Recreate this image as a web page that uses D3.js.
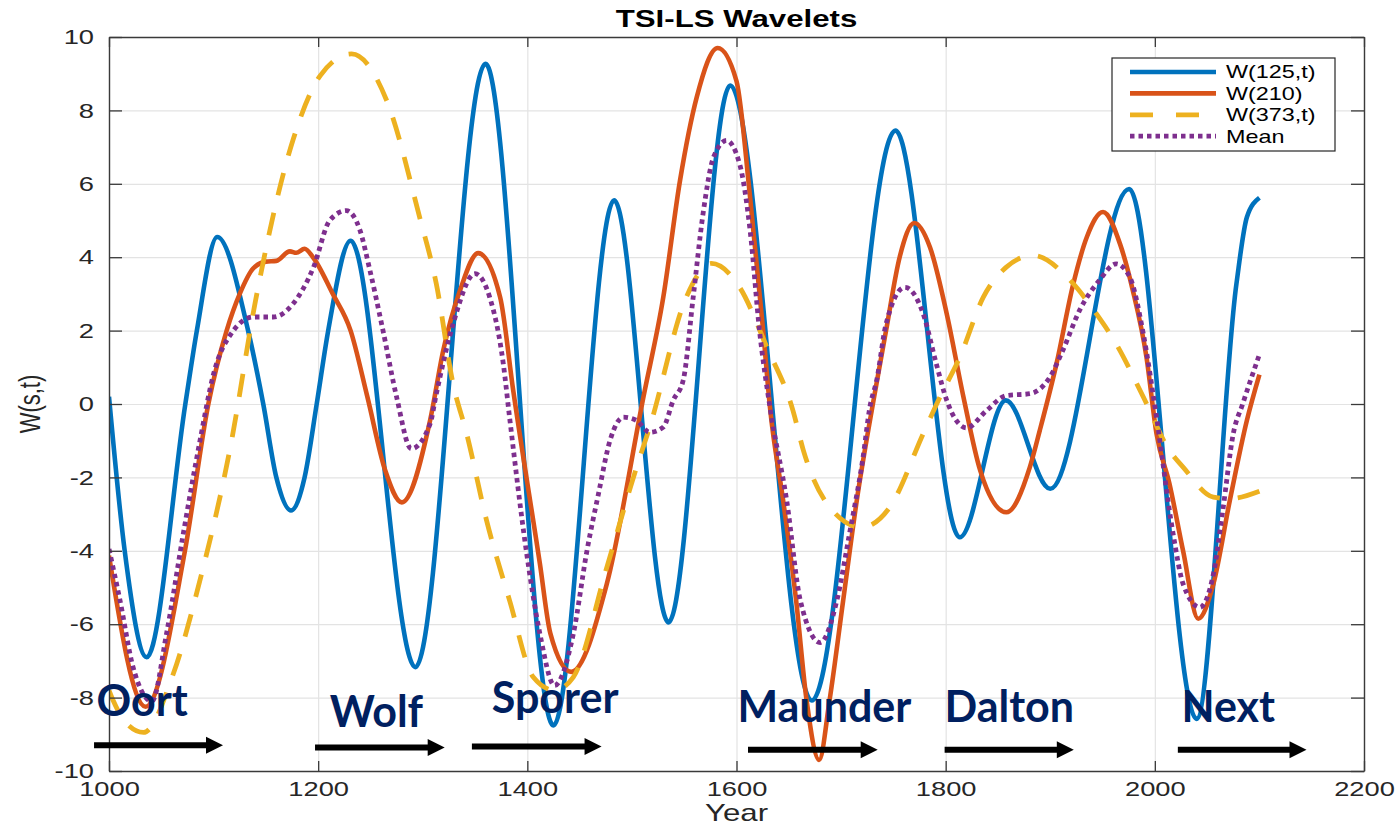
<!DOCTYPE html>
<html>
<head>
<meta charset="utf-8">
<script src="https://cdn.jsdelivr.net/npm/d3@7"></script>
<style>
  body { margin: 0; background: #fff; }
  svg { display: block; }
</style>
</head>
<body>
<div id="chart"></div>
<script>
// datos ---------------------------------------------------------------------
const seriesNames = ["W(125,t)", "W(210)", "W(373,t)", "Mean"];

const years125 = [1000, 1015, 1036, 1073, 1084, 1103.5, 1133, 1147.5, 1160, 1174, 1187, 1198.6, 1209.6, 1231,
  1293, 1360, 1425, 1483, 1535, 1594, 1672, 1752, 1813.5, 1857.5, 1900, 1975.5, 2040, 2078, 2088, 2100];
const w125 = [0.2, -4.0, -6.9, 0, 2, 4.55, 2, 0, -2, -2.9, -2, 0, 2, 4.45,
  -7.17, 9.27, -8.76, 5.55, -5.95, 8.68, -8.08, 7.45, -3.63, 0.1, -2.31, 5.86, -8.58, 3.27, 5.09, 5.62];

const years210 = [1000, 1035, 1072.6, 1095, 1112.5, 1125, 1138, 1150, 1160, 1173, 1179, 1187, 1195, 1214, 1231,
  1247, 1264, 1280, 1307, 1319.6, 1335.6, 1353, 1374, 1386.5, 1412, 1422, 1442, 1476, 1511, 1530, 1546, 1562,
  1582, 1600, 1613, 1625.5, 1632, 1644.6, 1657, 1667, 1679, 1689, 1702, 1715, 1731, 1743, 1756, 1770, 1785,
  1801, 1817, 1833, 1858, 1880.5, 1890, 1906, 1922, 1935, 1950.5, 1966.6, 1979, 1992, 2001.6, 2014, 2027,
  2041.5, 2056, 2071.7, 2088, 2100];
const w210 = [-4.13, -8.25, -4.0, 0, 2.0, 3.0, 3.7, 3.88, 3.9, 4.16, 4.12, 4.23, 4.0, 3.0, 2.0,
  0.2, -1.8, -2.68, -0.45, 1.46, 3.09, 4.11, 2.91, 0.37, -4.35, -6.25, -7.3, -4.9, 0.19, 2.91, 6.09, 8.36,
  9.7, 8.8, 5.63, 2.0, -0.09, -2.63, -5.35, -8.07, -9.7, -8.07, -5.35, -2.63, 0.1, 2.0, 4.0, 4.93, 4.27,
  2.46, 0.19, -1.81, -2.95, -1.72, -0.72, 1.1, 3.27, 4.55, 5.23, 4.37, 3.09, 1.28, -0.81, -2.17, -4.0,
  -5.85, -4.9, -2.63, -0.45, 0.8];

const years373 = [1000, 1004, 1017, 1033, 1061.5, 1087, 1116, 1140, 1176, 1202, 1232, 1265.5, 1297, 1313, 1329,
  1342, 1361, 1383, 1405.6, 1426, 1444, 1476, 1504.5, 1517, 1552, 1576, 1603, 1629, 1654, 1664, 1689, 1719.5,
  1746.6, 1778.5, 1794.5, 1813.6, 1836, 1858, 1883.6, 1919, 1944, 1963, 1989, 2014, 2027, 2056, 2071.7, 2100];
const w373 = [-7.8, -8.08, -8.71, -8.95, -7.35, -4.8, -1.18, 2.8, 7.2, 8.95, 9.54, 8.27, 5.09, 3.27, 0.55,
  -0.81, -3.17, -5.35, -7.44, -7.8, -7.44, -4.45, -1.72, -0.63, 2.91, 3.83, 3.18, 1.55, -0.18, -1.27, -2.81, -3.36,
  -2.81, -0.81, 0.19, 1.28, 2.91, 3.73, 4.05, 3.37, 2.46, 1.64, 0.19, -1.27, -1.72, -2.54, -2.58, -2.38];

const yearsMean = [1000, 1010.5, 1023, 1041, 1055, 1071, 1087, 1100, 1119, 1138, 1157, 1176, 1195.6, 1211, 1227,
  1240, 1249.5, 1262, 1275, 1289, 1307, 1313, 1329, 1350, 1364, 1377, 1383, 1399, 1412, 1426, 1444, 1457, 1468,
  1479, 1492, 1504.5, 1517, 1530, 1539.5, 1549, 1558.6, 1568, 1578, 1590.5, 1603, 1613, 1622, 1632, 1648, 1661,
  1680, 1696, 1708, 1721, 1727.5, 1734, 1743, 1761, 1778.5, 1791, 1801, 1820, 1839, 1858, 1880.5, 1899.6, 1912,
  1928, 1947, 1963, 1976, 1989, 2001.6, 2017.5, 2027, 2043, 2056, 2065, 2075, 2084, 2100];
const wMean = [-3.95, -5.35, -7.17, -8.1, -6.26, -3.54, -1.0, 0.82, 2.0, 2.37, 2.37, 2.73, 3.73, 5.0, 5.27,
  4.73, 3.64, 2.0, 0.19, -1.22, -0.54, 0.28, 2.18, 3.55, 2.91, 1.1, -0.36, -4.0, -6.26, -7.67, -6.26, -4.0, -2.45,
  -1.0, -0.36, -0.45, -0.77, -0.63, 0.1, 0.64, 2.91, 5.18, 6.72, 7.18, 6.54, 4.73, 2.0, -0.09, -2.63, -5.35,
  -6.5, -5.35, -3.54, -1.45, -0.09, 0.64, 2.18, 3.18, 2.46, 1.1, 0.1, -0.65, -0.18, 0.23, 0.28, 0.73, 1.46,
  2.55, 3.37, 3.82, 3.46, 1.91, -0.36, -3.54, -4.9, -5.54, -4.63, -2.9, -0.81, 0.0, 1.35];

// minimos solares (etiqueta y flecha)
const minimos = ["Oort", "Wolf", "Sporer", "Maunder", "Dalton", "Next"];
const minimoAnio = [988, 1211, 1366, 1601, 1799, 2025.5];
const minimoValor = [-8.49, -8.8, -8.43, -8.67, -8.67, -8.67];
const flechaInicio = [985.7, 1197, 1347, 1611, 1799, 2022];
const flechaFin = [1109, 1321, 1471, 1735, 1922.5, 2145];
const flechaValor = [-9.3, -9.36, -9.33, -9.42, -9.42, -9.42];

const xTicks = [1000, 1200, 1400, 1600, 1800, 2000, 2200];
const yTicks = [-10, -8, -6, -4, -2, 0, 2, 4, 6, 8, 10];

// ---------------------------------------------------------------------------
const WIDTH = 1396;
const HEIGHT = 825;
const margin = { top: 37, right: 32, bottom: 54, left: 109 };
const ancho = WIDTH - margin.left - margin.right;
const alto = HEIGHT - margin.top - margin.bottom;
const ESTIRAR = 1.3; // el original esta estirado en horizontal
const FUENTE = "Liberation Sans, Arial, sans-serif";

const estilos = [
  { color: "#0072BD", dash: null, width: 4.6 },
  { color: "#D95319", dash: null, width: 4.6 },
  { color: "#EDB120", dash: "23,18", width: 4.8 },
  { color: "#7E2F8E", dash: "4.5,4", width: 4.8 }
];

const series = [
  { years: years125, vals: w125 },
  { years: years210, vals: w210 },
  { years: years373, vals: w373 },
  { years: yearsMean, vals: wMean }
];

const SVG = d3.select("#chart").append("svg")
  .attr("width", WIDTH)
  .attr("height", HEIGHT);

const g = SVG.append("g").attr("transform", `translate(${margin.left},${margin.top})`);

const x = d3.scaleLinear().domain([1000, 2200]).range([0, ancho]);
const y = d3.scaleLinear().domain([-10, 10]).range([alto, 0]);

// grilla
g.append("g")
  .attr("transform", `translate(0,${alto})`)
  .call(d3.axisBottom(x).tickValues(xTicks).tickSize(-alto).tickFormat(""))
  .call(s => s.select(".domain").remove())
  .call(s => s.selectAll("line").attr("stroke", "#e3e3e3").attr("stroke-width", 1.2));
g.append("g")
  .call(d3.axisLeft(y).tickValues(yTicks).tickSize(-ancho).tickFormat(""))
  .call(s => s.select(".domain").remove())
  .call(s => s.selectAll("line").attr("stroke", "#e3e3e3").attr("stroke-width", 1.2));

// curvas
g.append("clipPath").attr("id", "clip")
  .append("rect").attr("width", ancho).attr("height", alto);

const linea = d3.line()
  .x(d => x(d[0]))
  .y(d => y(d[1]))
  .curve(d3.curveMonotoneX);

series.forEach((s, i) => {
  const puntos = s.years.map((a, j) => [a, s.vals[j]]);
  g.append("path")
    .datum(puntos)
    .attr("clip-path", "url(#clip)")
    .attr("fill", "none")
    .attr("stroke", estilos[i].color)
    .attr("stroke-width", estilos[i].width)
    .attr("stroke-dasharray", estilos[i].dash)
    .attr("stroke-linejoin", "round")
    .attr("d", linea);
});

// ejes (caja con ticks hacia adentro)
const colorEje = "#3a3a3a";
const formato = d => String(d);
const ejeX = g.append("g")
  .attr("transform", `translate(0,${alto})`)
  .call(d3.axisBottom(x).tickValues(xTicks).tickSizeInner(-10).tickSizeOuter(0).tickPadding(10).tickFormat(formato));
const ejeXArriba = g.append("g")
  .call(d3.axisTop(x).tickValues(xTicks).tickSizeInner(-10).tickSizeOuter(0).tickFormat(""));
const ejeY = g.append("g")
  .call(d3.axisLeft(y).tickValues(yTicks).tickSizeInner(-13).tickSizeOuter(0).tickPadding(11).tickFormat(formato));
const ejeYDer = g.append("g")
  .attr("transform", `translate(${ancho},0)`)
  .call(d3.axisRight(y).tickValues(yTicks).tickSizeInner(-13).tickSizeOuter(0).tickFormat(""));

[ejeX, ejeXArriba, ejeY, ejeYDer].forEach(e => {
  e.select(".domain").attr("stroke", colorEje).attr("stroke-width", 1.4);
  e.selectAll(".tick line").attr("stroke", colorEje).attr("stroke-width", 1.3);
});

ejeX.selectAll("text")
  .attr("font-family", FUENTE)
  .attr("font-size", "21px")
  .attr("fill", "#262626")
  .attr("transform", `scale(${ESTIRAR},1)`);
ejeY.selectAll("text")
  .attr("font-family", FUENTE)
  .attr("font-size", "21px")
  .attr("fill", "#262626")
  .attr("x", -15 / ESTIRAR)
  .attr("transform", `scale(${ESTIRAR},1)`);

// titulo y etiquetas de ejes
SVG.append("text")
  .attr("transform", `translate(${margin.left + ancho / 2},27) scale(${ESTIRAR},1)`)
  .attr("text-anchor", "middle")
  .attr("font-family", FUENTE)
  .attr("font-weight", "bold")
  .attr("font-size", "24px")
  .attr("fill", "#000")
  .text("TSI-LS Wavelets");

SVG.append("text")
  .attr("transform", `translate(${margin.left + ancho / 2},821) scale(${ESTIRAR},1)`)
  .attr("text-anchor", "middle")
  .attr("font-family", FUENTE)
  .attr("font-size", "24px")
  .attr("fill", "#262626")
  .text("Year");

SVG.append("text")
  .attr("transform", `translate(40,${margin.top + y(0)}) rotate(-90) scale(1,${ESTIRAR})`)
  .attr("text-anchor", "middle")
  .attr("font-family", FUENTE)
  .attr("font-size", "22px")
  .attr("fill", "#262626")
  .text("W(s,t)");

// nombres de minimos y flechas
const anotaciones = g.append("g");
minimos.forEach((m, i) => {
  const x1 = x(flechaInicio[i]);
  const x2 = x(flechaFin[i]);
  const yy = y(flechaValor[i]);
  anotaciones.append("line")
    .attr("x1", x1).attr("x2", x2 - 14)
    .attr("y1", yy).attr("y2", yy)
    .attr("stroke", "#000")
    .attr("stroke-width", 6);
  anotaciones.append("path")
    .attr("d", `M${x2 - 17},${yy - 8.5} L${x2},${yy} L${x2 - 17},${yy + 8.5} Z`)
    .attr("fill", "#000");
  anotaciones.append("text")
    .attr("x", x(minimoAnio[i]))
    .attr("y", y(minimoValor[i]))
    .attr("font-family", "Lato, Open Sans, sans-serif")
    .attr("font-weight", "bold")
    .attr("font-size", "43px")
    .attr("fill", "#002060")
    .text(m);
});

// leyenda
const leyenda = SVG.append("g").attr("transform", "translate(1112,58)");
leyenda.append("rect")
  .attr("width", 223).attr("height", 93)
  .attr("fill", "#fff")
  .attr("stroke", "#262626")
  .attr("stroke-width", 1.2);
seriesNames.forEach((n, i) => {
  const fy = 14 + i * 21.4;
  leyenda.append("line")
    .attr("x1", 18).attr("x2", 104)
    .attr("y1", fy).attr("y2", fy)
    .attr("stroke", estilos[i].color)
    .attr("stroke-width", estilos[i].width)
    .attr("stroke-dasharray", i === 2 ? "23,23" : estilos[i].dash);
  leyenda.append("text")
    .attr("transform", `translate(114,${fy}) scale(${ESTIRAR},1)`)
    .attr("dy", "0.36em")
    .attr("font-family", FUENTE)
    .attr("font-size", "18px")
    .attr("fill", "#000")
    .text(n);
});
</script>
</body>
</html>
